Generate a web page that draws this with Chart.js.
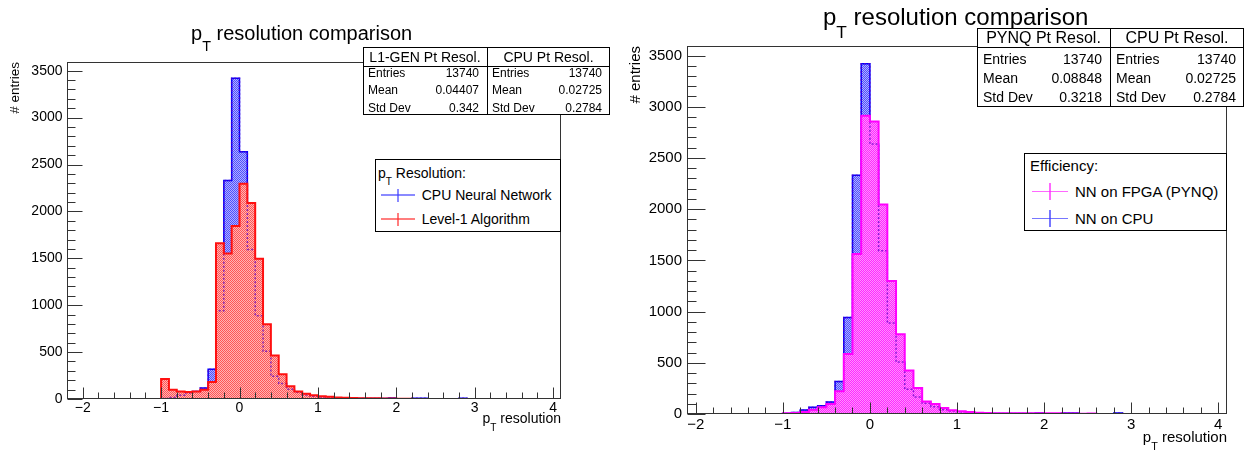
<!DOCTYPE html>
<html>
<head>
<meta charset="utf-8">
<title>pT resolution comparison</title>
<script src="https://cdn.jsdelivr.net/npm/chart.js"></script>
<style>
  body { margin: 0; background: #fff; font-family: "Liberation Sans", Arial, Helvetica, sans-serif; color: #000; }
  #wrap { position: relative; width: 1250px; height: 450px; overflow: hidden; }
  canvas { position: absolute; top: 0; }
  .txt { position: absolute; white-space: nowrap; line-height: 1; }
  .sub { font-size: 0.72em; position: relative; top: 0.75em; }
  .box { position: absolute; background: #fff; border: 1px solid #000; box-sizing: border-box; }
  .rot { position: absolute; white-space: nowrap; line-height: 1; text-align: right; transform-origin: 0 0; transform: rotate(-90deg); }
</style>
</head>
<body>
<div id="wrap">
  <canvas id="left" width="625" height="450" style="left:0"></canvas>
  <canvas id="right" width="625" height="450" style="left:625px"></canvas>

  <div class="txt" style="left:191px; top:23px; font-size:20px">p<span class="sub">T</span> resolution comparison</div>
  <div class="txt" style="left:823px; top:5px; font-size:24px">p<span class="sub">T</span> resolution comparison</div>

  <div class="rot" style="left:8px; top:162px; width:100px; font-size:13.5px"># entries</div>
  <div class="rot" style="left:627px; top:146px; width:100px; font-size:15px"># entries</div>

  <div class="txt" style="right:689px; top:411px; font-size:14px">p<span class="sub">T</span> resolution</div>
  <div class="txt" style="right:23px; top:429px; font-size:15px">p<span class="sub">T</span> resolution</div>
</div>

<script>
// histogram binning: 0.1 wide bins starting at -2.2
const binStart = -2.2;
const binWidth = 0.1;

// CPU neural network (blue), same histogram in both pads
const cpuCounts = [
  0, 0, 0, 0, 0, 0, 0, 0, 0, 0, 0, 0,
  5, 15, 40, 65, 80, 118, 318, 941, 2330, 3420,
  2635, 1595, 888, 508, 242, 165, 105, 72, 42, 30,
  22, 20, 12, 8, 6, 5, 5, 4, 4, 10,
  3, 2, 9, 9, 1, 0, 0, 0, 9,
  0, 0, 0, 0, 0, 0, 0, 0, 0, 0, 0, 0
];
// Level-1 algorithm (red)
const l1Counts = [
  0, 0, 0, 0, 0, 0, 0, 0, 0, 0, 0, 0,
  212, 99, 81, 74, 81, 99, 182, 1661, 1551, 1845,
  2295, 2090, 1494, 797, 465, 265, 136, 81, 56, 40,
  28, 25, 17, 12, 10, 9, 8, 7, 5, 4,
  3, 2, 1,
  0, 0, 0, 0, 0, 0, 0, 0, 0, 0, 0, 0, 0, 0, 0, 0, 0, 0
];
// NN on FPGA (PYNQ), magenta
const pynqCounts = [
  0, 0, 0, 0, 0, 0, 0, 0, 0, 0, 0, 0,
  8, 10, 20, 42, 65, 97, 221, 587, 1561, 2911,
  2856, 2045, 1298, 779, 425, 253, 123, 97, 58, 36,
  26, 20, 12, 9, 8, 8, 8, 7, 7, 8,
  7, 7, 6, 6, 2, 6,
  0, 0, 0, 0, 0, 0, 0, 0, 0, 0, 0, 0, 0, 0, 0
];

const xTickLabels = [-2, -1, 0, 1, 2, 3, 4];
const yTickLabels = [0, 500, 1000, 1500, 2000, 2500, 3000, 3500];

const statNames = ["Entries", "Mean", "Std Dev"];
const l1Stats = ["13740", "0.04407", "0.342"];
const cpuStats = ["13740", "0.02725", "0.2784"];
const pynqStats = ["13740", "0.08848", "0.3218"];

const FONT = '"Liberation Sans", Arial, Helvetica, sans-serif';

function toSteps(counts) {
  const pts = counts.map((c, i) => ({ x: Math.round((binStart + i * binWidth) * 10) / 10, y: c }));
  pts.push({ x: Math.round((binStart + counts.length * binWidth) * 10) / 10, y: counts[counts.length - 1] });
  return pts;
}

function fmt(v) {
  return v < 0 ? "\u2212" + Math.abs(v) : String(v);
}

function checker(ctx, c1, c2) {
  const p = document.createElement("canvas");
  p.width = 2; p.height = 2;
  const g = p.getContext("2d");
  g.fillStyle = c2; g.fillRect(0, 0, 2, 2);
  g.fillStyle = c1; g.fillRect(0, 0, 1, 1); g.fillRect(1, 1, 1, 1);
  return ctx.createPattern(p, "repeat");
}

// ROOT style frame: ticks inside the frame, labels outside
const rootFrame = {
  id: "rootFrame",
  afterDatasetsDraw(chart, args, o) {
    const { ctx, chartArea: a, scales: { x, y } } = chart;
    const L = Math.round(a.left) + 0.5, R = Math.round(a.right) - 0.5;
    const T = Math.round(a.top) + 0.5, B = Math.round(a.bottom) - 0.5;
    ctx.save();
    ctx.strokeStyle = "#333";
    ctx.lineWidth = 1;
    ctx.beginPath();
    for (let k = Math.ceil(x.min / 0.2 - 1e-9); k <= Math.floor(x.max / 0.2 + 1e-9); k++) {
      const px = Math.round(x.getPixelForValue(k * 0.2)) + 0.5;
      const len = k % 5 === 0 ? o.xMajor : o.xMinor;
      ctx.moveTo(px, B); ctx.lineTo(px, B - len);
    }
    for (let k = 0; k * 100 <= y.max; k++) {
      const py = Math.round(y.getPixelForValue(k * 100)) + 0.5;
      const len = k % 5 === 0 ? o.yMajor : o.yMinor;
      ctx.moveTo(L, py); ctx.lineTo(L + len, py);
    }
    ctx.stroke();
    ctx.strokeRect(L, T, R - L, B - T);

    ctx.fillStyle = "#000";
    ctx.font = o.font + "px " + FONT;
    ctx.textAlign = "center";
    ctx.textBaseline = "middle";
    xTickLabels.forEach(v => ctx.fillText(fmt(v), x.getPixelForValue(v), B + o.xPad));
    ctx.textAlign = "right";
    yTickLabels.forEach(v => ctx.fillText(fmt(v), L - o.yPad, y.getPixelForValue(v)));
    ctx.restore();
  }
};

function makeChart(id, under, over, xmin, pad, frameOpts) {
  const ctx = document.getElementById(id).getContext("2d");
  const underFill = checker(ctx, "rgb(80,80,255)", "rgb(175,175,255)");
  return new Chart(ctx, {
    type: "line",
    data: {
      datasets: [
        // top line of the front histogram
        { data: toSteps(over.counts), stepped: true, borderColor: over.line, borderWidth: 2,
          fill: false, pointRadius: 0, order: 1 },
        // back histogram outline seen through the front pattern
        { data: toSteps(under), stepped: true, borderColor: "rgba(90,0,200,0.7)", borderWidth: 1.5,
          borderDash: [2, 2], fill: false, pointRadius: 0, order: 2 },
        // front histogram fill
        { data: toSteps(over.counts), stepped: true, borderWidth: 0, borderColor: "rgba(0,0,0,0)",
          backgroundColor: checker(ctx, over.c1, over.c2), fill: "origin", pointRadius: 0, order: 3 },
        // back histogram (CPU NN)
        { data: toSteps(under), stepped: true, borderColor: "#0000ff", borderWidth: 1.5,
          backgroundColor: underFill, fill: "origin", pointRadius: 0, order: 4 }
      ]
    },
    options: {
      responsive: false,
      animation: false,
      layout: { padding: pad },
      scales: {
        x: { type: "linear", min: xmin, max: 4.1, display: false },
        y: { min: 0, max: 3593, display: false }
      },
      plugins: {
        legend: { display: false },
        tooltip: { enabled: false },
        rootFrame: frameOpts
      }
    },
    plugins: [rootFrame]
  });
}

makeChart("left", cpuCounts,
  { counts: l1Counts, line: "#ff1010", c1: "rgb(255,85,85)", c2: "rgb(255,180,180)" },
  -2.2, { left: 67, right: 64, top: 62, bottom: 51 },
  { xMajor: 11, xMinor: 6, yMajor: 15, yMinor: 8, font: 14, xPad: 10, yPad: 5 });

makeChart("right", cpuCounts,
  { counts: pynqCounts, line: "#ff00ff", c1: "rgb(255,40,255)", c2: "rgb(255,145,255)" },
  -2.1, { left: 62, right: 23, top: 46, bottom: 36 },
  { xMajor: 11, xMinor: 6, yMajor: 18, yMinor: 9, font: 15, xPad: 11.5, yPad: 5.5 });

// ---- stat boxes and legends (html overlays) ----
const wrap = document.getElementById("wrap");

function addText(html, left, cy, fs, align) {
  const d = document.createElement("div");
  d.className = "txt";
  d.style.fontSize = fs + "px";
  d.style.top = (cy - 0.49 * fs) + "px";
  if (align === "right") d.style.right = (1250 - left) + "px";
  else if (align === "center") { d.style.left = (left - 100) + "px"; d.style.width = "200px"; d.style.textAlign = "center"; }
  else d.style.left = left + "px";
  d.innerHTML = html;
  wrap.appendChild(d);
}

function addBox(x, y, w, h) {
  const b = document.createElement("div");
  b.className = "box";
  Object.assign(b.style, { left: x + "px", top: y + "px", width: w + "px", height: h + "px" });
  wrap.appendChild(b);
  return b;
}

function addLine(x, y, w, h, color) {
  const l = document.createElement("div");
  Object.assign(l.style, { position: "absolute", left: x + "px", top: y + "px", width: w + "px", height: h + "px", background: color });
  wrap.appendChild(l);
}

function statBox(s) {
  addBox(s.x, s.y, s.w, s.h);
  addLine(s.split, s.y, 1, s.h, "#000");
  addLine(s.x, s.headB, s.w, 1, "#000");
  const cols = [
    { l: s.x, r: s.split, title: s.titles[0], vals: s.vals[0] },
    { l: s.split, r: s.x + s.w, title: s.titles[1], vals: s.vals[1] }
  ];
  cols.forEach(c => {
    addText(c.title, (c.l + c.r) / 2, s.headC, s.fh, "center");
    statNames.forEach((n, i) => {
      addText(n, c.l + s.padL, s.rows[i], s.fr);
      addText(c.vals[i], c.r - s.padR, s.rows[i], s.fr, "right");
    });
  });
}

statBox({ x: 363, y: 47, w: 247, h: 68, split: 487, headB: 66, headC: 56.7, fh: 14, fr: 12,
  rows: [72.8, 90, 107.8], padL: 5, padR: 8,
  titles: ["L1-GEN Pt Resol.", "CPU Pt Resol."], vals: [l1Stats, cpuStats] });

statBox({ x: 977, y: 28, w: 267, h: 79, split: 1110, headB: 47, headC: 38.3, fh: 16, fr: 14,
  rows: [58.5, 77.7, 96.7], padL: 6, padR: 8,
  titles: ["PYNQ Pt Resol.", "CPU Pt Resol."], vals: [pynqStats, cpuStats] });

function legendBox(g) {
  addBox(g.x, g.y, g.w, g.h);
  addText(g.title, g.tx, g.titleC, g.fs);
  g.entries.forEach((e, i) => {
    const cy = g.rows[i];
    addLine(g.cx - g.half, cy - 0.75, 2 * g.half, 1.5, e.color);
    addLine(g.cx - 0.75, cy - g.vhalf, 1.5, 2 * g.vhalf, e.color);
    addText(e.label, g.textX, cy, g.fs);
  });
}

legendBox({ x: 375, y: 159, w: 186, h: 73, fs: 14, tx: 378, titleC: 172.5,
  title: 'p<span class="sub">T</span> Resolution:', rows: [195, 219], cx: 398, half: 17, vhalf: 6.5, textX: 421.7,
  entries: [
    { label: "CPU Neural Network", color: "rgba(60,60,255,0.6)" },
    { label: "Level-1 Algorithm", color: "rgba(255,40,40,0.6)" }
  ] });

legendBox({ x: 1024, y: 153, w: 203, h: 78, fs: 15, tx: 1030, titleC: 165.7,
  title: "Efficiency:", rows: [191.7, 218.3], cx: 1050, half: 18.3, vhalf: 8.5, textX: 1075,
  entries: [
    { label: "NN on FPGA (PYNQ)", color: "rgba(255,40,255,0.7)" },
    { label: "NN on CPU", color: "rgba(60,60,255,0.7)" }
  ] });
</script>
</body>
</html>
